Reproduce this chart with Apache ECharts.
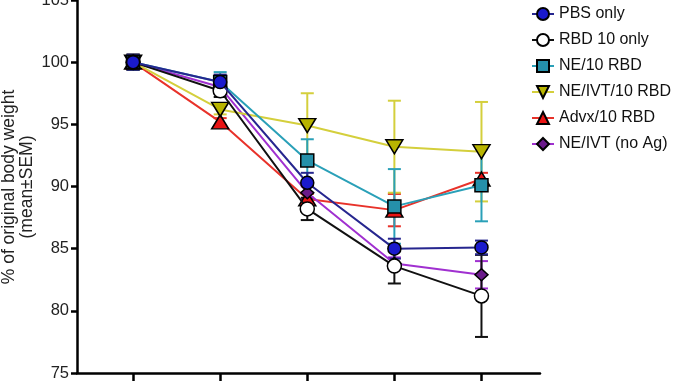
<!DOCTYPE html>
<html><head><meta charset="utf-8">
<script src="https://cdn.jsdelivr.net/npm/echarts@6/dist/echarts.min.js"></script>
<style>html,body{margin:0;padding:0;background:#fff}#c{width:678px;height:381px}</style>
</head><body><div id="c"></div>
<script>
const days = [0, 1, 2, 3, 4];
const yTicks = [75, 80, 85, 90, 95, 100, 105];
const yTitle = '% of original body weight\n(mean±SEM)';
const names = ['PBS only', 'RBD 10 only', 'NE/10 RBD', 'NE/IVT/10 RBD', 'Advx/10 RBD', 'NE/IVT (no Ag)'];
const pbsMean = [100, 98.4, 90.3, 85.0, 85.1];
const pbsSem = [0.6, 0.6, 0.8, 0.8, 0.55];
const rbdMean = [100, 97.7, 88.2, 83.6, 81.2];
const rbdSem = [0.6, 0.5, 0.9, 1.4, 3.3];
const ne10Mean = [100, 98.4, 92.1, 88.4, 90.1];
const ne10Sem = [0.6, 0.8, 1.7, 3.0, 2.9];
const neivtMean = [100, 96.2, 94.9, 93.2, 92.8];
const neivtSem = [0.6, 0.4, 2.6, 3.7, 4.0];
const advxMean = [100, 95.2, 89.0, 88.1, 90.6];
const advxSem = [0.6, 0.3, 0.4, 1.3, 0.5];
const noagMean = [100, 98.0, 89.5, 83.8, 82.9];
const noagSem = [0.6, 0.5, 0.5, 0.5, 1.1];

const FONT = '"Liberation Sans", Arial, sans-serif';

function lineSeries(name, means, lineColor, fill, symbol, size, z, rotate) {
  return {
    type: 'line', name: name, z: z,
    data: means.map((m, i) => [days[i], m]),
    symbol: symbol, symbolSize: size, symbolRotate: rotate || 0,
    lineStyle: { color: lineColor, width: 2 },
    itemStyle: { color: fill, borderColor: '#000', borderWidth: 1.5 },
    emphasis: { disabled: true },
    animation: false
  };
}
function errSeries(name, means, sems, color, z) {
  return {
    type: 'custom', name: name + ' err', z: z, silent: true, animation: false,
    data: means.map((m, i) => [days[i], m - sems[i], m + sems[i]]),
    encode: { x: 0, y: [1, 2] },
    renderItem: function (params, api) {
      const x = api.value(0);
      const lo = api.coord([x, api.value(1)]);
      const hi = api.coord([x, api.value(2)]);
      const hw = 6.5;
      const st = { stroke: color, lineWidth: 2 };
      return { type: 'group', children: [
        { type: 'line', shape: { x1: lo[0], y1: lo[1], x2: hi[0], y2: hi[1] }, style: st },
        { type: 'line', shape: { x1: lo[0] - hw, y1: lo[1], x2: lo[0] + hw, y2: lo[1] }, style: st },
        { type: 'line', shape: { x1: hi[0] - hw, y1: hi[1], x2: hi[0] + hw, y2: hi[1] }, style: st }
      ]};
    }
  };
}

const C = {
  pbs: ['#26268f', '#1a1acc'],
  rbd: ['#111111', '#ffffff'],
  ne10: ['#2aa0b8', '#2590aa'],
  neivt: ['#d4cf3c', '#b8b400'],
  advx: ['#e8322a', '#e81414'],
  noag: ['#a030d0', '#6a1a8a']
};

const chart = echarts.init(document.getElementById('c'), null, { renderer: 'canvas' });
chart.setOption({
  animation: false,
  grid: { left: 77, right: 138, top: 0, bottom: 8, containLabel: false, outerBoundsMode: 'none' },
  graphic: [{
    type: 'text', x: 18, y: 187, rotation: Math.PI / 2, silent: true,
    style: {
      text: yTitle, align: 'center', verticalAlign: 'middle',
      font: '17.5px "Liberation Sans", Arial, sans-serif', lineHeight: 18, fill: '#222'
    }
  }],
  legend: {
    data: names, orient: 'vertical', left: 526, top: 1,
    itemWidth: 22, itemHeight: 15, itemGap: 10,
    textStyle: { fontFamily: FONT, fontSize: 16, color: '#111' }
  },
  xAxis: {
    type: 'value', min: -0.644, max: 4.672,
    axisLine: { show: true, onZero: false, lineStyle: { color: '#000', width: 2.5 } },
    axisTick: { show: true, customValues: days, length: 10, inside: false, lineStyle: { color: '#000', width: 2.5 } },
    axisLabel: { show: false },
    splitLine: { show: false }
  },
  yAxis: {
    type: 'value', min: 75, max: 105, interval: 5,
    axisLine: { show: true, onZero: false, lineStyle: { color: '#000', width: 2.5 } },
    axisTick: { show: true, length: 6, lineStyle: { color: '#000', width: 2.5 } },
    axisLabel: { fontFamily: FONT, fontSize: 16.5, color: '#222', margin: 8 },
    splitLine: { show: false }
  },
  series: [
    errSeries(names[4], advxMean, advxSem, C.advx[0], 1),
    errSeries(names[5], noagMean, noagSem, C.noag[0], 1),
    errSeries(names[3], neivtMean, neivtSem, C.neivt[0], 1),
    errSeries(names[2], ne10Mean, ne10Sem, C.ne10[0], 1),
    errSeries(names[1], rbdMean, rbdSem, C.rbd[0], 1),
    errSeries(names[0], pbsMean, pbsSem, C.pbs[0], 1),
    lineSeries(names[0], pbsMean, C.pbs[0], C.pbs[1], 'circle', 13, 8),
    lineSeries(names[1], rbdMean, C.rbd[0], C.rbd[1], 'circle', 14, 7),
    lineSeries(names[2], ne10Mean, C.ne10[0], C.ne10[1], 'rect', 13, 6),
    lineSeries(names[3], neivtMean, C.neivt[0], C.neivt[1], 'triangle', [17, 14], 5, 180),
    lineSeries(names[4], advxMean, C.advx[0], C.advx[1], 'triangle', [17, 14], 3),
    lineSeries(names[5], noagMean, C.noag[0], C.noag[1], 'diamond', [13, 12], 4)
  ]
});
</script></body></html>
